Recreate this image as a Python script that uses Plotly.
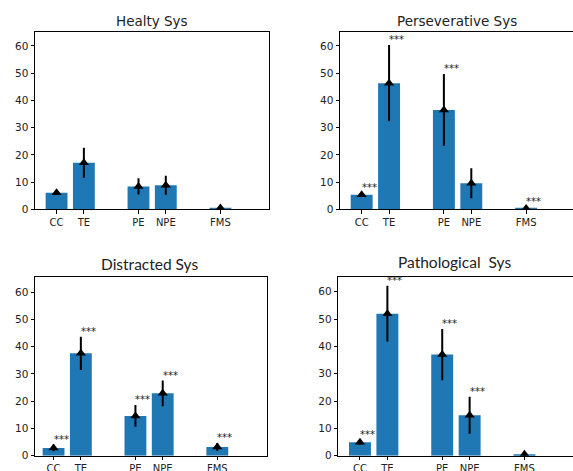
import plotly.graph_objects as go

categories = ["CC", "TE", "PE", "NPE", "FMS"]
positions = [0, 1, 3, 4, 6]

titles = ["Healty Sys", "Perseverative Sys", "Distracted Sys", "Pathological  Sys"]

healthy_mean = [6.1, 17.1, 8.4, 8.8, 0.5]
healthy_err = [0.8, 5.5, 3.0, 3.5, 0.9]
healthy_sig = [False, False, False, False, False]

persev_mean = [5.3, 46.3, 36.5, 9.6, 0.3]
persev_err = [0.8, 14.0, 13.2, 5.5, 0.6]
persev_sig = [True, True, True, False, True]

distr_mean = [2.8, 37.6, 14.6, 22.9, 3.2]
distr_err = [1.2, 6.1, 4.0, 4.7, 1.5]
distr_sig = [True, True, True, True, True]

patho_mean = [4.9, 52.0, 37.0, 14.8, 0.5]
patho_err = [0.8, 10.2, 9.4, 6.8, 0.6]
patho_sig = [True, True, True, True, False]

panels = [
    (healthy_mean, healthy_err, healthy_sig),
    (persev_mean, persev_err, persev_sig),
    (distr_mean, distr_err, distr_sig),
    (patho_mean, patho_err, patho_sig),
]

W, H = 573, 471
# pixel boxes of each axes: (x0, x1, ytop, ybottom)
boxes = [
    (35, 269.3, 31.7, 209.3),
    (340, 573, 31.7, 209.3),
    (35, 266.7, 277.3, 455.7),
    (338.3, 573, 277.3, 455.7),
]
xranges = [[-0.79, 7.79], [-0.79, 7.71], [-0.68, 7.81], [-0.79, 7.77]]
yranges = [[0, 65.2], [0, 65.2], [0, 65.5], [0, 65.3]]
title_pos = [(152, 21, "DejaVu Sans", 13.5), (457, 21, "DejaVu Sans", 13.5),
             (149, 264, "Lato", 15.5), (454, 262, "Lato", 15.5)]

BAR = "#1f77b4"
fig = go.Figure()
layout = dict(width=W, height=H, margin=dict(l=0, r=0, t=0, b=0, autoexpand=False),
              paper_bgcolor="white", plot_bgcolor="white", showlegend=False,
              font=dict(family="DejaVu Sans", size=10, color="#222"))
annotations = []

for i, (mean, err, sig) in enumerate(panels):
    n = "" if i == 0 else str(i + 1)
    xa, ya = "x" + n, "y" + n
    fig.add_trace(go.Bar(x=positions, y=mean, width=0.8, marker=dict(color=BAR, line=dict(width=0)),
                         xaxis=xa, yaxis=ya, hoverinfo="skip"))
    fig.add_trace(go.Scatter(x=positions, y=mean, mode="markers",
                             marker=dict(symbol="triangle-up", size=9, color="black"),
                             error_y=dict(type="data", array=err, color="black", thickness=2, width=0),
                             xaxis=xa, yaxis=ya, hoverinfo="skip"))
    x0, x1, yt, yb = boxes[i]
    right = i in (1, 3)
    layout["xaxis" + n] = dict(domain=[x0 / W, min(x1 / W, 1.0)], range=xranges[i],
                               tickvals=positions, ticktext=categories, ticks="outside",
                               ticklen=3.5, tickwidth=1, tickcolor="black",
                               showline=True, linecolor="black", linewidth=1, mirror=True,
                               showgrid=False, zeroline=False, anchor=ya, fixedrange=True,
                               automargin=False, tickfont=dict(size=10))
    layout["yaxis" + n] = dict(domain=[1 - yb / H, 1 - yt / H], range=yranges[i],
                               tickvals=[0, 10, 20, 30, 40, 50, 60], ticks="outside",
                               ticklen=3.5, tickwidth=1, tickcolor="black",
                               showline=True, linecolor="black", linewidth=1,
                               mirror=(not right), showgrid=False, zeroline=False,
                               anchor=xa, fixedrange=True, automargin=False,
                               tickfont=dict(size=10.5))
    tx, ty, fam, fs = title_pos[i]
    annotations.append(dict(text=titles[i], x=tx / W, y=1 - ty / H, xref="paper", yref="paper",
                            xanchor="center", yanchor="middle", showarrow=False,
                            font=dict(family=fam, size=fs, color="#222")))
    for p, m, e, s in zip(positions, mean, err, sig):
        if s:
            annotations.append(dict(text="***", x=p, y=m + e, xref=xa, yref=ya,
                                    xanchor="left", yanchor="bottom", showarrow=False,
                                    xshift=-2, yshift=-2,
                                    font=dict(family="DejaVu Sans", size=10, color="#222")))

layout["annotations"] = annotations
fig.update_layout(**layout)
fig.write_html("out.html")
